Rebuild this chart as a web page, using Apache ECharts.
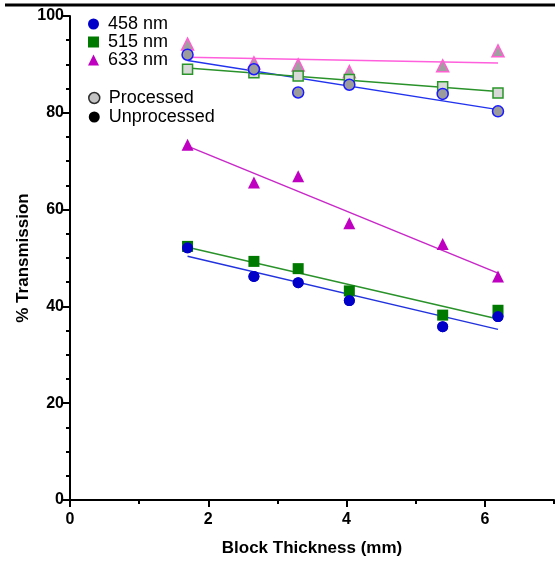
<!DOCTYPE html>
<html>
<head>
<meta charset="utf-8">
<script src="https://cdn.jsdelivr.net/npm/echarts@6/dist/echarts.min.js"></script>
<style>
  html, body { margin: 0; padding: 0; background: #fff; }
  #chart { width: 555px; height: 562px; }
</style>
</head>
<body>
<div id="chart"></div>
<script>
// block thickness (mm)
const thickness = [1.7, 2.66, 3.3, 4.04, 5.39, 6.19]
// % transmission, processed blocks
const proc458 = [92.0, 89.0, 84.2, 85.8, 83.9, 80.3]
const proc515 = [89.0, 88.3, 87.6, 86.9, 85.4, 84.1]
const proc633 = [94.2, 90.3, 89.9, 88.5, 89.7, 92.8]
// % transmission, unprocessed blocks
const unproc458 = [52.1, 46.2, 44.9, 41.2, 35.8, 37.9]
const unproc515 = [52.4, 49.3, 47.8, 43.2, 38.2, 39.2]
const unproc633 = [73.4, 65.6, 66.9, 57.2, 52.9, 46.2]

const xTicksMajor = [0, 2, 4, 6]
const xTicksMinor = [1, 3, 5, 7]

const FONT = 'Liberation Sans, Arial, sans-serif'

const pairs = ys => thickness.map((x, i) => [x, ys[i]])

// least squares line drawn across the measured range
function fitLine(ys) {
  const n = thickness.length
  const mx = thickness.reduce((a, b) => a + b, 0) / n
  const my = ys.reduce((a, b) => a + b, 0) / n
  let sxy = 0
  let sxx = 0
  thickness.forEach((x, i) => {
    sxy += (x - mx) * (ys[i] - my)
    sxx += (x - mx) * (x - mx)
  })
  const k = sxy / sxx
  const x0 = Math.min(...thickness)
  const x1 = Math.max(...thickness)
  return [[x0, my + k * (x0 - mx)], [x1, my + k * (x1 - mx)]]
}

function line(name, ys, color) {
  return {
    name,
    type: 'line',
    data: fitLine(ys),
    symbol: 'none',
    silent: true,
    z: 1,
    lineStyle: { color, width: 1.5 }
  }
}

function dots(name, ys, symbol, size, fill, border, bw) {
  return {
    name,
    type: 'scatter',
    data: pairs(ys),
    symbol,
    symbolSize: size,
    z: 3,
    itemStyle: { color: fill, borderColor: border, borderWidth: bw, opacity: 1 }
  }
}

const chart = echarts.init(document.getElementById('chart'))

chart.setOption({
  animation: false,
  backgroundColor: '#fff',
  grid: { left: 70, right: 1, top: 16, bottom: 61, containLabel: false },
  legend: [
    {
      left: 83,
      top: 10,
      orient: 'vertical',
      itemWidth: 11,
      itemHeight: 11,
      itemGap: 0,
      selectedMode: false,
      textStyle: { fontFamily: FONT, fontSize: 18, color: '#000', padding: [0, 0, 0, 4] },
      data: [
        { name: '458 nm', icon: 'circle' },
        { name: '515 nm', icon: 'rect' },
        { name: '633 nm', icon: 'triangle' }
      ]
    },
    {
      left: 83,
      top: 84,
      orient: 'vertical',
      itemWidth: 11,
      itemHeight: 11,
      itemGap: 1,
      selectedMode: false,
      textStyle: { fontFamily: FONT, fontSize: 18, color: '#000', padding: [0, 0, 0, 4] },
      data: [
        { name: 'Processed', icon: 'circle',
          itemStyle: { color: '#b4b4b4', borderColor: '#000', borderWidth: 1.5 } },
        { name: 'Unprocessed', icon: 'circle',
          itemStyle: { color: '#000', borderColor: '#000', borderWidth: 0, opacity: 1 } }
      ]
    }
  ],
  xAxis: [
    {
      type: 'value',
      min: 0,
      max: 7,
      name: 'Block Thickness (mm)',
      nameLocation: 'middle',
      nameGap: 40,
      nameTextStyle: { fontFamily: FONT, fontSize: 17, fontWeight: 'bold', color: '#000' },
      splitLine: { show: false },
      axisLine: { lineStyle: { color: '#000', width: 2 } },
      axisTick: { customValues: xTicksMajor, length: 7, lineStyle: { color: '#000', width: 2 } },
      axisLabel: {
        customValues: xTicksMajor,
        margin: 12,
        fontFamily: FONT,
        fontSize: 16,
        fontWeight: 'bold',
        color: '#000'
      }
    },
    {
      type: 'value',
      min: 0,
      max: 7,
      position: 'bottom',
      splitLine: { show: false },
      axisLine: { show: false },
      axisTick: { customValues: xTicksMinor, length: 4, lineStyle: { color: '#000', width: 2 } },
      axisLabel: { show: false }
    }
  ],
  yAxis: {
    type: 'value',
    min: 0,
    max: 100,
    interval: 20,
    name: '% Transmission',
    nameLocation: 'middle',
    nameGap: 38,
    nameMoveOverlap: false,
    nameTextStyle: { fontFamily: FONT, fontSize: 17, fontWeight: 'bold', color: '#000' },
    splitLine: { show: false },
    axisLine: { show: true, lineStyle: { color: '#000', width: 2 } },
    axisTick: { show: true, length: 7, lineStyle: { color: '#000', width: 2 } },
    minorTick: { show: true, splitNumber: 4, length: 4, lineStyle: { color: '#000', width: 2 } },
    axisLabel: { margin: 6, fontFamily: FONT, fontSize: 16, fontWeight: 'bold', color: '#000' }
  },
  series: [
    // legend entries come from these first three
    dots('458 nm', unproc458, 'circle', 11, '#0000c8', '#0000c8', 0),
    dots('515 nm', unproc515, 'rect', 11, '#007a00', '#007a00', 0),
    dots('633 nm', unproc633, 'triangle', 12, '#c000c0', '#c000c0', 0),
    { name: 'Processed', type: 'scatter', data: [], symbol: 'circle',
      itemStyle: { color: '#b4b4b4', borderColor: '#000', borderWidth: 1.5 } },
    { name: 'Unprocessed', type: 'scatter', data: [], symbol: 'circle',
      itemStyle: { color: '#000', borderColor: '#000', borderWidth: 0 } },

    line('fit 458 unproc', unproc458, '#2233dd'),
    line('fit 515 unproc', unproc515, '#2a922a'),
    line('fit 633 unproc', unproc633, '#c828c8'),
    line('fit 458 proc', proc458, '#2233ee'),
    line('fit 515 proc', proc515, '#2a922a'),
    line('fit 633 proc', proc633, '#ff5fdc'),

    dots('633 proc', proc633, 'triangle', 12, '#a0a0a0', '#ff5fd0', 1.5),
    dots('515 proc', proc515, 'rect', 10, '#d8d8d8', '#2a962a', 1.5),
    dots('458 proc', proc458, 'circle', 11, '#9c9c9c', '#1a1aff', 1.5),
    // re-draw unprocessed circles above squares
    dots('458 unproc top', unproc458, 'circle', 11, '#0000c8', '#0000c8', 0)
  ],
  graphic: [
    {
      type: 'line',
      shape: { x1: 5, y1: 5, x2: 555, y2: 5 },
      style: { stroke: '#000', lineWidth: 3 },
      silent: true
    }
  ]
})
</script>
</body>
</html>
